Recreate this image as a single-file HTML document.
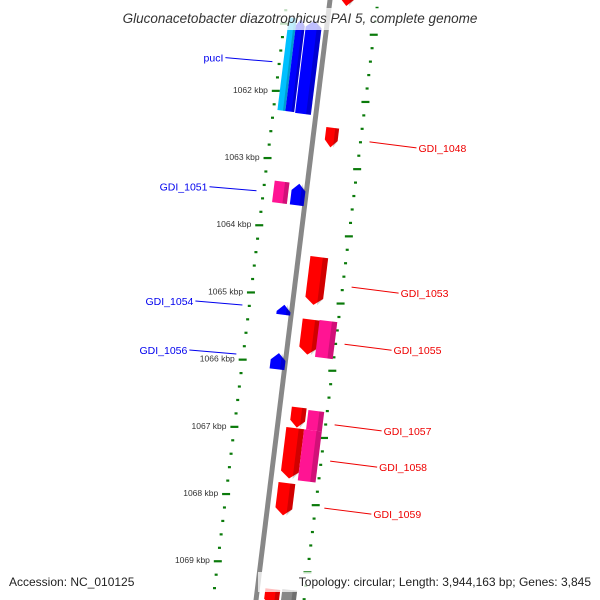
<!DOCTYPE html>
<html><head><meta charset="utf-8"><style>
html,body{margin:0;padding:0;background:#fff}
svg{display:block;font-family:"Liberation Sans","DejaVu Sans",sans-serif}
</style></head><body>
<svg id="map" width="600" height="600" viewBox="0 0 600 600">
<g id="layer"></g>
<rect x="95" y="8" width="410" height="22" fill="#fff" opacity="0.75"/>
<text x="300" y="23" text-anchor="middle" font-size="13.5" font-style="italic" fill="#333">Gluconacetobacter diazotrophicus PAI 5, complete genome</text>
<rect x="258" y="572" width="340" height="20" fill="#fff" opacity="0.75"/>
<text x="9" y="586" font-size="12" fill="#222">Accession: NC_010125</text>
<text x="591" y="586" text-anchor="end" font-size="12" fill="#222">Topology: circular; Length: 3,944,163 bp; Genes: 3,845</text>
</svg>
<script>
// data
const tickKbp = [1060,1061,1062,1063,1064,1065,1066,1067,1068,1069,1070];
const geneNames = ["top-red","pucI-a","pucI-b","pucI-c","GDI_1048","GDI_1051-pink","GDI_1051","GDI_1053","GDI_1054","GDI_1055","GDI_1055-pink","GDI_1056","GDI_1057","GDI_1057-pink","GDI_1058","GDI_1058-pink","GDI_1059","bottom-red","bottom-gray"];
const geneStart = [1060.29,1060.90,1060.90,1060.90,1062.44,1063.32,1063.32,1064.36,1065.12,1065.29,1065.28,1065.84,1066.60,1066.62,1066.91,1066.91,1067.73,1069.31,1069.29];
const geneEnd   = [1060.63,1062.28,1062.28,1062.29,1062.73,1063.64,1063.64,1065.07,1065.27,1065.81,1065.83,1066.08,1066.90,1066.91,1067.66,1067.67,1068.21,1069.57,1069.57];
const geneStrand= [1,0,-1,-1,1,0,-1,1,-1,1,0,-1,1,0,1,0,1,1,0];
const geneLane  = [[10,24],[-39,-31],[-31,-22],[-21,-5],[12,25],[-33,-18],[-15,-1],[12,30],[-15,-1],[12,30],[29,47],[-15,0],[12,27],[29,45],[9,27],[27,45],[8,25],[8,23],[25,40]];
const geneColor = ["#ff0000","#00c0ff","#0000ff","#0000ff","#ff0000","#ff1493","#0000ff","#ff0000","#0000ff","#ff0000","#ff1493","#0000ff","#ff0000","#ff1493","#ff0000","#ff1493","#ff0000","#ff0000","#888888"];
const labelText = ["pucI","GDI_1051","GDI_1054","GDI_1056","GDI_1048","GDI_1053","GDI_1055","GDI_1057","GDI_1058","GDI_1059"];
const labelSide = [-1,-1,-1,-1,1,1,1,1,1,1];
const labelKbp  = [1061.58,1063.50,1065.20,1065.93,1062.58,1064.74,1065.59,1066.79,1067.33,1068.03];

const NS="http://www.w3.org/2000/svg";
const layer=document.getElementById('layer');
const baseY=k=>96+(k-1062)*67.2;
const P=(v,k)=>{const y0=baseY(k);const y=y0+v*0.122;return [330+v-0.1233*y, y];};
function mk(tag,attrs){const e=document.createElementNS(NS,tag);for(const k in attrs)e.setAttribute(k,attrs[k]);layer.appendChild(e);return e;}
const kOf=y=>1062+(y-96)/67.2;
// backbone
{const b=mk('polygon',{points:[P(-2.5,kOf(-10)),P(2.5,kOf(-10)),P(2.5,kOf(610)),P(-2.5,kOf(610))].map(p=>p.join(',')).join(' '),fill:'#888'});

}
// ticks
for(let i=0;i<=60;i++){
  const kk=Math.round((1059.6+i*0.2)*10)/10;
  const major=Math.abs(kk-Math.round(kk))<0.01;
  [-43,48].forEach(base=>{
    const w=major?8:3;
    const [x,y]=P(base,kk);if(y<-5||y>605)return;
    const t=mk('rect',{x:x-w/2,y:y-1,width:w,height:2.2,fill:'#0a7a0a'});
    
    
  });
}
tickKbp.forEach(k=>{const [x,y]=P(-51,k);if(y<40||y>575)return;
  const t=mk('text',{x:x,y:y+3,'text-anchor':'end','font-size':'8.5',fill:'#333'});t.textContent=k+' kbp';
  
  });
// genes
geneNames.forEach((n,i)=>{
  const k1=geneStart[i],k2=geneEnd[i];const [a,b]=geneLane[i];const m=(a+b)/2;const st=geneStrand[i];
  const hk=7/67.2;
  let pts;
  if(st===1) pts=[[a,k1],[b,k1],[b,k2-hk],[m,k2],[a,k2-hk]];
  else if(st===-1) pts=[[m,k1],[b,k1+hk],[b,k2],[a,k2],[a,k1+hk]];
  else pts=[[a,k1],[b,k1],[b,k2],[a,k2]];
  const g=mk('polygon',{points:pts.map(p=>P(p[0],p[1]).join(',')).join(' '),fill:geneColor[i]});
  
  
  const d=b-(b-a)*0.3;
  const sp=pts.map(p=>[Math.max(p[0],d),p[1]]);
  const s=mk('polygon',{points:sp.map(p=>P(p[0],p[1]).join(',')).join(' '),fill:'#000',opacity:0.18});
  
  
});
// labels
labelText.forEach((t,i)=>{
  const s=labelSide[i];const col=s<0?'#0000ee':'#ee0000';
  const [x0,y]=P(s<0?-50:57,labelKbp[i]);const x1=x0+s*47;
  const ly=s<0?y-4:y+6;
  const l=mk('line',{x1:x0,y1:y,x2:x1,y2:ly,stroke:col,'stroke-width':1});
  
  
  const tx=mk('text',{x:x1+s*2,y:ly+4,'text-anchor':s<0?'end':'start','font-size':'10.5',fill:col});tx.textContent=t;
  
  
});
</script>
</body></html>
